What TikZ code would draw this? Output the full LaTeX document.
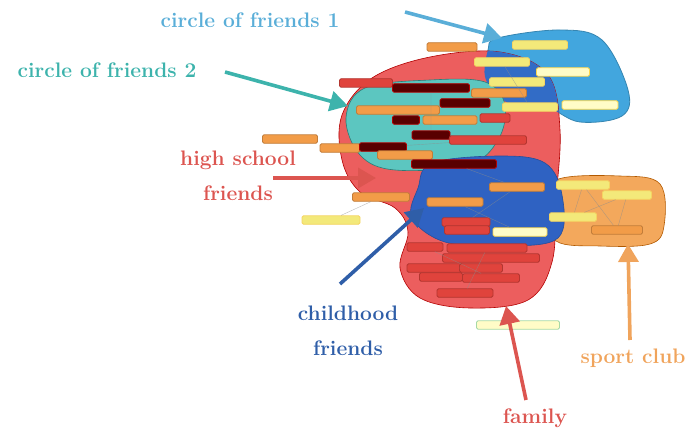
\documentclass[tikz,border=0pt]{standalone}
\usepackage{xcolor}
\usepackage{tikz}
\usetikzlibrary{arrows.meta}

\definecolor{blobred}{HTML}{EC5E5E}
\definecolor{blobteal}{HTML}{5CC6C0}
\definecolor{blobsky}{HTML}{42A6DE}
\definecolor{blobnavy}{HTML}{2F62C2}
\definecolor{bloborange}{HTML}{F3A85C}
\definecolor{cfone}{HTML}{5AAED8}
\definecolor{cftwo}{HTML}{3DB3AC}
\definecolor{hsred}{HTML}{DC5550}
\definecolor{chnavy}{HTML}{2F5EA8}
\definecolor{spclub}{HTML}{F0A45C}
\definecolor{barorange}{HTML}{F29C48}
\definecolor{baryellow}{HTML}{F3E97A}
\definecolor{barred}{HTML}{E0433C}

\tikzset{
  bar/.style={draw, rounded corners=1.5pt, inner sep=0pt, minimum height=8.5pt, line width=0.8pt},
  obar/.style={bar, fill=barorange, draw=barorange!80!black},
  ybar/.style={bar, fill=baryellow, draw=baryellow!80!orange},
  pbar/.style={bar, fill=yellow!22, draw=yellow!60!orange!70},
  rbar/.style={bar, fill=barred, draw=barred!80!black},
  dbar/.style={bar, fill=red!35!black, draw=red!70!black},
  edge/.style={black!45, line width=0.4pt, opacity=0.6},
  lbl/.style={font=\fontsize{21}{35}\selectfont\bfseries, align=center, inner sep=1pt},
  callout/.style={line width=3.6pt, -{Triangle[length=18pt,width=20pt]}},
}

\begin{document}
\begin{tikzpicture}[x=1pt,y=-1pt]
  \useasboundingbox (0,0) rectangle (700,441);

  % groups
  \def\skypath{plot[smooth cycle, tension=0.6] coordinates {(498,38) (560,30) (602,40) (628,90) (622,116) (580,122) (548,108) (510,104) (486,80) (488,50)}}
  \def\redpath{plot[smooth cycle, tension=0.6] coordinates {(372,78) (430,57) (500,52) (548,75) (560,130) (556,200) (552,262) (528,300) (470,308) (420,298) (400,268) (408,232) (395,208) (360,192) (342,160) (342,115)}}
  \fill[blobsky] \skypath;
  \draw[blobsky!80!black, line width=0.8pt] \skypath;
  \fill[blobred] \redpath;
  \draw[red!70!black, line width=0.6pt] \redpath;
  \begin{scope}
    \clip \redpath;
    \fill[blobnavy!85!blobsky] \skypath;
  \end{scope}
  \filldraw[fill=blobteal, draw=cftwo!70!black, line width=0.6pt] plot[smooth cycle, tension=0.6] coordinates {(365,88) (430,80) (485,82) (505,105) (498,140) (468,165) (395,170) (360,155) (346,118)};
  \filldraw[fill=bloborange, draw=orange!70!black, line width=0.6pt] plot[smooth cycle, tension=0.6] coordinates {(556,180) (620,176) (660,184) (664,226) (650,244) (600,246) (556,241) (548,210)};
  \filldraw[fill=blobnavy, draw=blobnavy!80!black, line width=0.6pt] plot[smooth cycle, tension=0.6] coordinates {(432,163) (500,156) (545,163) (562,195) (558,238) (505,246) (445,242) (412,218) (418,188)};

  % members
  \node[obar, minimum width=50pt] (o1) at (452,47) {};
  \node[ybar, minimum width=55pt] (y1) at (540,45) {};
  \node[ybar, minimum width=55pt] (y2) at (502,62) {};
  \node[pbar, minimum width=53pt] (p1) at (563,72) {};
  \node[rbar, minimum width=53pt] (r1) at (366,83) {};
  \node[dbar, minimum width=77pt] (d1) at (431,88) {};
  \node[ybar, minimum width=55pt] (y3) at (517,82) {};
  \node[obar, minimum width=55pt] (o2) at (499,93) {};
  \node[dbar, minimum width=50pt] (d2) at (465,103) {};
  \node[obar, minimum width=83pt] (o3) at (398,110) {};
  \node[ybar, minimum width=55pt] (y4) at (530,107) {};
  \node[pbar, minimum width=56pt] (p2) at (590,105) {};
  \node[dbar, minimum width=27pt] (d3) at (406,120) {};
  \node[obar, minimum width=54pt] (o4) at (450,120) {};
  \node[rbar, minimum width=30pt] (r2) at (495,118) {};
  \node[dbar, minimum width=38pt] (d4) at (431,135) {};
  \node[rbar, minimum width=77pt] (r3) at (488,140) {};
  \node[obar, minimum width=55pt] (o5) at (290,139) {};
  \node[obar, minimum width=40pt] (o6) at (340,148) {};
  \node[dbar, minimum width=47pt] (d5) at (383,147) {};
  \node[obar, minimum width=55pt] (o7) at (405,155) {};
  \node[dbar, minimum width=85pt] (d6) at (454,164) {};
  \node[obar, minimum width=55pt] (o8) at (517,187) {};
  \node[ybar, minimum width=53pt] (y5) at (583,185) {};
  \node[ybar, minimum width=49pt] (y6) at (627,195) {};
  \node[obar, minimum width=57pt] (o9) at (381,197) {};
  \node[obar, minimum width=56pt] (o10) at (455,202) {};
  \node[ybar, minimum width=58pt] (y7) at (331,220) {};
  \node[ybar, minimum width=47pt] (y8) at (573,217) {};
  \node[rbar, minimum width=48pt] (r4) at (466,222) {};
  \node[rbar, minimum width=45pt] (r5) at (467,230) {};
  \node[pbar, minimum width=54pt] (p3) at (520,232) {};
  \node[obar, minimum width=51pt] (o11) at (617,230) {};
  \node[rbar, minimum width=36pt] (r6) at (425,247) {};
  \node[rbar, minimum width=80pt] (r7) at (487,248) {};
  \node[rbar, minimum width=97pt] (r8) at (491,258) {};
  \node[rbar, minimum width=56pt] (r9) at (435,268) {};
  \node[rbar, minimum width=43pt] (r10) at (481,268) {};
  \node[rbar, minimum width=43pt] (r11) at (441,277) {};
  \node[rbar, minimum width=57pt] (r12) at (491,278) {};
  \node[rbar, minimum width=56pt] (r13) at (465,293) {};
  \node[pbar, minimum width=83pt, draw=green!40!gray!50] (p4) at (518,325) {};

  % ties
  \draw[edge] (y5) -- (o11) (y6) -- (y8) (y8) -- (y5) (y6) -- (o11);
  \draw[edge] (o8) -- (r4) (o10) -- (p3) (d6) -- (o8);
  \draw[edge] (d1) -- (d4) (o3) -- (d2) (d5) -- (r3) (y2) -- (y4);
  \draw[edge] (r7) -- (r13) (r6) -- (r12) (r9) -- (r10);
  \draw[edge] (y7) -- (o9);

  % callouts
  \node[lbl, text=cfone] (cf1) at (250,20) {circle of friends 1};
  \node[lbl, text=cftwo] (cf2) at (107,70) {circle of friends 2};
  \node[lbl, text=hsred] (hs) at (238,176) {high school\\friends};
  \node[lbl, text=chnavy] (ch) at (348,331) {childhood\\friends};
  \node[lbl, text=hsred] (fam) at (535,418) {family};
  \node[lbl, text=spclub] (sc) at (633,358) {sport club};

  \coordinate (cf1tail) at (405,12);  \coordinate (cf1tip) at (502,38);
  \coordinate (cf2tail) at (225,72);  \coordinate (cf2tip) at (348,106);
  \coordinate (hstail) at (273,178);  \coordinate (hstip) at (376,178);
  \coordinate (chtail) at (340,284);  \coordinate (chtip) at (424,208);
  \coordinate (famtail) at (526,400); \coordinate (famtip) at (506,306);
  \coordinate (sctail) at (630,340);  \coordinate (sctip) at (628,244);
  \draw[callout, cfone] (cf1tail) -- (cf1tip);
  \draw[callout, cftwo] (cf2tail) -- (cf2tip);
  \draw[callout, hsred] (hstail) -- (hstip);
  \draw[callout, chnavy] (chtail) -- (chtip);
  \draw[callout, hsred] (famtail) -- (famtip);
  \draw[callout, spclub] (sctail) -- (sctip);
\end{tikzpicture}
\end{document}
